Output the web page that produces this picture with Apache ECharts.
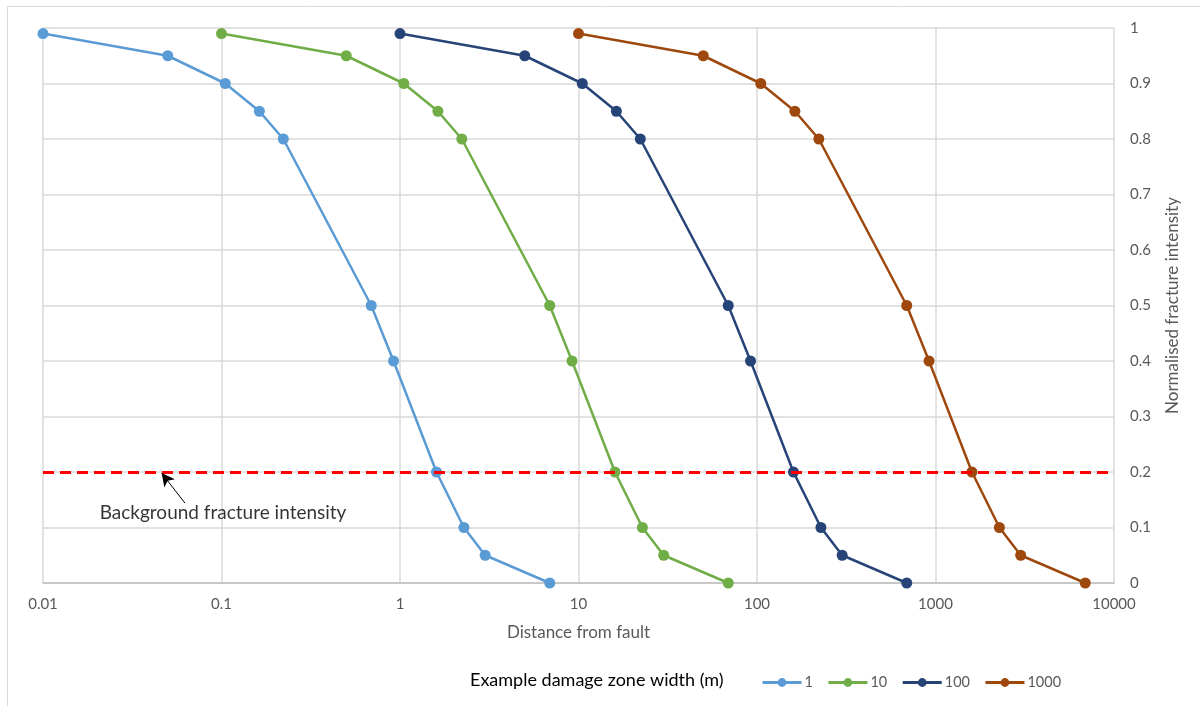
<!DOCTYPE html>
<html>
<head>
<meta charset="utf-8">
<script src="https://cdn.jsdelivr.net/npm/echarts@6/dist/echarts.min.js"></script>
<style>
  html, body { margin: 0; padding: 0; background: #fff; }
  #chart { width: 1200px; height: 706px; }
</style>
</head>
<body>
<div id="chart"></div>
<script>
// Normalised fracture intensity against distance from fault (log scale)
const intensity = [0.99, 0.95, 0.9, 0.85, 0.8, 0.5, 0.4, 0.2, 0.1, 0.05, 0];

const dist1    = [0.01, 0.05, 0.105, 0.163, 0.222, 0.69, 0.92, 1.6, 2.28, 3.0, 6.9];
const dist10   = [0.1, 0.5, 1.05, 1.63, 2.22, 6.9, 9.2, 16, 22.8, 30, 69];
const dist100  = [1, 5, 10.5, 16.3, 22.2, 69, 92, 160, 228, 300, 690];
const dist1000 = [10, 50, 105, 163, 222, 690, 920, 1600, 2280, 3000, 6900];

const widthNames = ['1', '10', '100', '1000'];
const widthColors = ['#5B9BD5', '#70AD47', '#264478', '#9E480E'];

const backgroundLevel = 0.2;
const backgroundText = 'Background fracture intensity';
// arrow tip on the background line and its tail, plus text anchor (data units)
const arrowTip = [0.0462, 0.198];
const arrowTail = [0.0624, 0.144];
const textAnchor = [0.102, 0.126];

const xTicks = ['0.01', '0.1', '1', '10', '100', '1000', '10000'];

const FONT = 'Lato, "Open Sans", sans-serif';

function pairs(xs) { return xs.map((x, i) => [x, intensity[i]]); }

const chart = echarts.init(document.getElementById('chart'));

const curves = [dist1, dist10, dist100, dist1000].map((xs, k) => ({
  name: widthNames[k],
  type: 'line',
  data: pairs(xs),
  symbol: 'circle',
  symbolSize: 11,
  showSymbol: true,
  lineStyle: { color: widthColors[k], width: 2.5 },
  itemStyle: { color: widthColors[k] },
  emphasis: { disabled: true },
  z: 3
}));

chart.setOption({
  animation: false,
  backgroundColor: '#ffffff',
  textStyle: { fontFamily: FONT },
  title: {
    text: 'Example damage zone width (m)',
    left: 470,
    top: 671,
    padding: 0,
    textStyle: { fontFamily: FONT, fontSize: 18, fontWeight: 'normal', color: '#000000' }
  },
  legend: {
    data: widthNames,
    left: 761,
    top: 675,
    padding: 0,
    itemWidth: 39,
    itemHeight: 11,
    itemGap: 14,
    lineStyle: { width: 3 },
    textStyle: { fontFamily: FONT, fontSize: 14.5, color: '#595959', padding: [0, 0, 0, -2] }
  },
  grid: { left: 43, right: 86, top: 28, bottom: 123, containLabel: false },
  xAxis: {
    type: 'log',
    logBase: 10,
    min: 0.01,
    max: 10000,
    name: 'Distance from fault',
    nameLocation: 'middle',
    nameGap: 41,
    nameTextStyle: { fontFamily: FONT, fontSize: 17, color: '#595959' },
    axisLine: { show: true, lineStyle: { color: '#BFBFBF', width: 1.5 } },
    axisTick: { show: false },
    axisLabel: {
      margin: 14,
      fontFamily: FONT,
      fontSize: 15,
      color: '#595959',
      formatter: (v) => {
        const e = Math.round(Math.log10(v));
        return xTicks[e + 2];
      }
    },
    splitLine: { show: true, lineStyle: { color: '#D9D9D9', width: 1.5 } }
  },
  yAxis: {
    type: 'value',
    position: 'right',
    min: 0,
    max: 1,
    interval: 0.1,
    name: 'Normalised fracture intensity',
    nameLocation: 'middle',
    nameRotate: 90,
    nameGap: 50,
    nameTextStyle: { fontFamily: FONT, fontSize: 17, color: '#595959' },
    axisLine: { show: false },
    axisTick: { show: false },
    axisLabel: {
      margin: 16,
      fontFamily: FONT,
      fontSize: 15,
      color: '#595959',
      formatter: (v) => String(Math.round(v * 10) / 10)
    },
    splitLine: { show: true, lineStyle: { color: '#D9D9D9', width: 1.5 } }
  },
  series: curves.concat([
    {
      name: 'background',
      type: 'line',
      data: [],
      silent: true,
      z: 5,
      markLine: {
        silent: true,
        symbol: ['none', 'none'],
        label: { show: false },
        lineStyle: { color: '#FF0000', width: 3, type: [11, 6] },
        data: [{ yAxis: backgroundLevel }]
      }
    },
    {
      name: 'annotation',
      type: 'scatter',
      data: [textAnchor],
      symbolSize: 0,
      silent: true,
      label: {
        show: true,
        position: 'inside',
        formatter: backgroundText,
        fontFamily: FONT,
        fontSize: 19,
        color: '#000000'
      },
      markLine: {
        silent: true,
        symbol: ['arrow', 'none'],
        symbolSize: [10, 13],
        label: { show: false },
        lineStyle: { color: '#000000', width: 1, type: 'solid' },
        data: [[{ coord: arrowTip }, { coord: arrowTail }]]
      }
    }
  ]),
  graphic: [
    {
      type: 'rect',
      shape: { x: 7.5, y: 6.5, width: 1300, height: 800 },
      style: { fill: 'none', stroke: '#D9D9D9', lineWidth: 1 },
      silent: true,
      z: -1
    }
  ]
});
</script>
</body>
</html>
